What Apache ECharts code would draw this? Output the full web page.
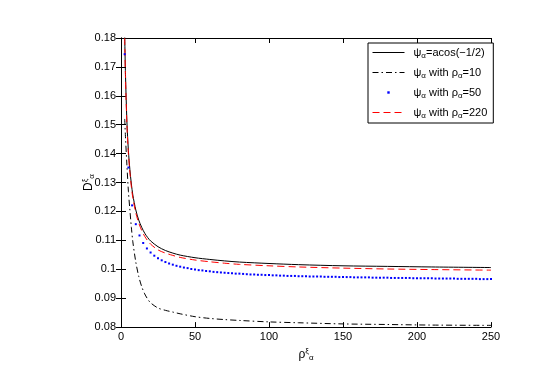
<!DOCTYPE html>
<html>
<head>
<meta charset="utf-8">
<script src="https://cdn.jsdelivr.net/npm/echarts@6/dist/echarts.min.js"></script>
<style>
    html, body { margin: 0; padding: 0; background: #fff; }
    #chart { width: 544px; height: 367px; }
</style>
</head>
<body>
<div id="chart"></div>
<script>
// rho values for the three line curves
var rhoLine = [2.5, 3, 4, 5, 6, 7, 8, 10, 12, 14, 16, 18, 20, 25, 30, 35, 40, 50, 60, 70, 80, 100, 120, 150, 180, 210, 250];
// psi = acos(-1/2)
var dAcos = [0.181, 0.168, 0.151, 0.141, 0.1345, 0.1295, 0.1257, 0.1205, 0.1170, 0.1145, 0.1125, 0.1110, 0.1098, 0.1078, 0.1065, 0.1056, 0.1049, 0.1040, 0.1034, 0.1029, 0.1025, 0.1020, 0.1016, 0.1012, 0.1010, 0.1008, 0.1006];
// rho_alpha = 10
var dR10 = [0.152, 0.146, 0.136, 0.127, 0.1205, 0.1145, 0.1095, 0.1025, 0.0975, 0.0940, 0.0915, 0.0897, 0.0884, 0.0866, 0.0858, 0.0852, 0.0846, 0.0836, 0.0830, 0.0826, 0.0823, 0.0818, 0.0815, 0.0811, 0.0809, 0.0807, 0.0806];
// rho_alpha = 220
var dR220 = [0.180, 0.167, 0.150, 0.140, 0.1335, 0.1285, 0.1247, 0.1195, 0.1160, 0.1134, 0.1114, 0.1099, 0.1087, 0.1067, 0.1056, 0.1048, 0.1041, 0.1032, 0.1026, 0.1021, 0.1017, 0.1012, 0.1008, 0.1004, 0.1001, 0.0999, 0.0997];
// rho_alpha = 50, drawn as dots every 2.5
var rhoDots = [2.5, 5, 7.5, 10, 12.5, 15, 17.5, 20, 22.5, 25, 27.5, 30, 32.5, 35, 37.5, 40, 42.5, 45, 47.5, 50,
    52.5, 55, 57.5, 60, 62.5, 65, 67.5, 70, 72.5, 75, 77.5, 80, 82.5, 85, 87.5, 90, 92.5, 95, 97.5, 100,
    102.5, 105, 107.5, 110, 112.5, 115, 117.5, 120, 122.5, 125, 127.5, 130, 132.5, 135, 137.5, 140, 142.5, 145, 147.5, 150,
    152.5, 155, 157.5, 160, 162.5, 165, 167.5, 170, 172.5, 175, 177.5, 180, 182.5, 185, 187.5, 190, 192.5, 195, 197.5, 200,
    202.5, 205, 207.5, 210, 212.5, 215, 217.5, 220, 222.5, 225, 227.5, 230, 232.5, 235, 237.5, 240, 242.5, 245, 247.5, 250];
var dR50 = [0.1744, 0.1352, 0.1221, 0.1156, 0.1117, 0.1091, 0.1072, 0.1058, 0.1047, 0.1038, 0.1031, 0.1025, 0.1020, 0.1016, 0.1012, 0.1009, 0.1006, 0.1004, 0.1001, 0.0999,
    0.0997, 0.0996, 0.0994, 0.0993, 0.0991, 0.0990, 0.0989, 0.0988, 0.0987, 0.0986, 0.0985, 0.0985, 0.0984, 0.0983, 0.0982, 0.0982, 0.0981, 0.0981, 0.0980, 0.0980,
    0.0979, 0.0979, 0.0978, 0.0978, 0.0977, 0.0977, 0.0977, 0.0976, 0.0976, 0.0976, 0.0975, 0.0975, 0.0975, 0.0975, 0.0974, 0.0974, 0.0974, 0.0974, 0.0973, 0.0973,
    0.0973, 0.0973, 0.0972, 0.0972, 0.0972, 0.0972, 0.0972, 0.0971, 0.0971, 0.0971, 0.0971, 0.0971, 0.0970, 0.0970, 0.0970, 0.0970, 0.0970, 0.0970, 0.0969, 0.0969,
    0.0969, 0.0969, 0.0969, 0.0969, 0.0968, 0.0968, 0.0968, 0.0968, 0.0968, 0.0968, 0.0967, 0.0967, 0.0967, 0.0967, 0.0967, 0.0967, 0.0966, 0.0966, 0.0966, 0.0966];
var legendText = {
    acos: '{a|ψ}{s|α}{a|=acos(−1/2)}',
    r10: '{a|ψ}{s|α}{a| with ρ}{s|α}{a|=10}',
    r50: '{a|ψ}{s|α}{a| with ρ}{s|α}{a|=50}',
    r220: '{a|ψ}{s|α}{a| with ρ}{s|α}{a|=220}'
};

function pairs(xs, ys) {
    var out = [];
    for (var i = 0; i < xs.length; i++) {
        out.push([xs[i], ys[i]]);
    }
    return out;
}

var font = 'Liberation Sans, Arial, sans-serif';
var richText = {
    a: { fontSize: 11, fontFamily: font, color: '#000' },
    s: { fontSize: 8, fontFamily: font, color: '#000', padding: [7, 0, 0, 0] },
    p: { fontSize: 8, fontFamily: font, color: '#000', padding: [0, 0, 7, 0] },
    b: { fontSize: 12, fontFamily: font, color: '#000' }
};

var chart = echarts.init(document.getElementById('chart'), null, { renderer: 'canvas' });

var axisLine = { show: true, lineStyle: { color: '#000', width: 1 } };
var tickIn = { show: true, inside: true, length: 5, lineStyle: { color: '#000' } };
var noDot = { opacity: 0 };

var option = {
    backgroundColor: '#fff',
    animation: false,
    grid: { left: 121, right: 53, top: 38, bottom: 36, show: false },
    legend: {
        orient: 'vertical',
        left: 368,
        top: 43,
        padding: [4, 6, 3, 4],
        itemWidth: 32,
        itemHeight: 3,
        itemGap: 7,
        borderColor: '#000',
        borderWidth: 1,
        backgroundColor: '#fff',
        data: [
            { name: 'acos', itemStyle: noDot, lineStyle: { width: 1 } },
            { name: 'r10', itemStyle: noDot, lineStyle: { width: 1 } },
            { name: 'r50' },
            { name: 'r220', itemStyle: noDot, lineStyle: { width: 1 } }
        ],
        formatter: function (name) {
            return legendText[name];
        },
        textStyle: { rich: richText, padding: [0, 0, 0, 4] }
    },
    xAxis: [{
        type: 'value',
        min: 0,
        max: 250,
        interval: 50,
        axisLine: axisLine,
        axisTick: tickIn,
        splitLine: { show: false },
        axisLabel: { color: '#000', fontSize: 11, fontFamily: font, margin: 4 },
        name: '{b|ρ}{p|ξ}{s|α}',
        nameLocation: 'middle',
        nameGap: 18,
        nameTextStyle: { rich: richText }
    }, {
        type: 'value',
        position: 'top',
        min: 0,
        max: 250,
        interval: 50,
        axisLine: axisLine,
        axisTick: tickIn,
        axisLabel: { show: false },
        splitLine: { show: false }
    }],
    yAxis: [{
        type: 'value',
        min: 0.08,
        max: 0.18,
        interval: 0.01,
        axisLine: axisLine,
        axisTick: tickIn,
        splitLine: { show: false },
        axisLabel: {
            color: '#000', fontSize: 11, fontFamily: font, margin: 5,
            formatter: function (v) { return String(+v.toFixed(2)); }
        },
        name: '{b|D}{p|ξ}{s|α}',
        nameLocation: 'middle',
        nameGap: 25,
        nameMoveOverlap: false,
        nameRotate: 90,
        nameTextStyle: { rich: richText }
    }, {
        type: 'value',
        position: 'right',
        min: 0.08,
        max: 0.18,
        interval: 0.01,
        axisLine: axisLine,
        axisTick: tickIn,
        axisLabel: { show: false },
        splitLine: { show: false }
    }],
    series: [{
        name: 'acos',
        type: 'line',
        data: pairs(rhoLine, dAcos),
        symbol: 'none',
        smooth: 0.3,
        lineStyle: { color: '#000', width: 1 },
        itemStyle: { color: '#000' }
    }, {
        name: 'r10',
        type: 'line',
        data: pairs(rhoLine, dR10),
        symbol: 'none',
        smooth: 0.3,
        lineStyle: { color: '#000', width: 1, type: [6, 3, 1.5, 3] },
        itemStyle: { color: '#000' }
    }, {
        name: 'r50',
        type: 'line',
        data: pairs(rhoDots, dR50),
        symbol: 'rect',
        symbolSize: 2,
        showAllSymbol: true,
        lineStyle: { width: 0, opacity: 0 },
        itemStyle: { color: '#0000ff' }
    }, {
        name: 'r220',
        type: 'line',
        data: pairs(rhoLine, dR220),
        symbol: 'none',
        smooth: 0.3,
        lineStyle: { color: '#ff0000', width: 1, type: [7, 4] },
        itemStyle: { color: '#ff0000' }
    }]
};

chart.setOption(option);
</script>
</body>
</html>
